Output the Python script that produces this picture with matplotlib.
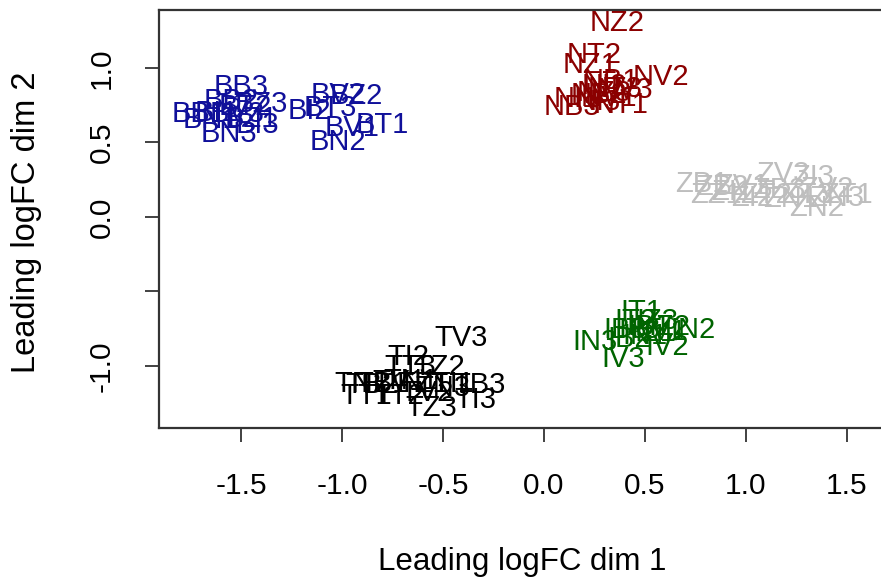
import matplotlib
matplotlib.use("Agg")
from matplotlib import pyplot as plt

plt.rcParams['font.family'] = ['Liberation Sans', 'DejaVu Sans']

# MDS coordinates, one block per group
b_lab = ['BB3', 'BB1', 'BB2', 'BI1', 'BI2', 'BI3', 'BN1', 'BN2', 'BN3',
         'BT1', 'BT2', 'BT3', 'BV1', 'BV2', 'BV3', 'BZ1', 'BZ2', 'BZ3']
b_x = [-1.50, -1.71, -1.55, -1.62, -1.16, -1.42, -1.65, -1.02, -1.56,
       -0.80, -1.48, -1.06, -0.95, -1.02, -1.52, -1.45, -0.93, -1.40]
b_y = [0.87, 0.69, 0.78, 0.70, 0.71, 0.62, 0.65, 0.50, 0.56,
       0.62, 0.74, 0.73, 0.60, 0.82, 0.69, 0.66, 0.81, 0.76]

n_lab = ['NZ2', 'NT2', 'NZ1', 'NV2', 'NB1', 'NI2', 'NT3', 'NZ3', 'NV1',
         'NB2', 'NI1', 'NT1', 'NB3', 'NI3', 'NV3']
n_x = [0.36, 0.25, 0.23, 0.58, 0.33, 0.30, 0.35, 0.30, 0.32,
       0.27, 0.16, 0.38, 0.14, 0.27, 0.40]
n_y = [1.30, 1.09, 1.02, 0.94, 0.91, 0.88, 0.86, 0.83, 0.80,
       0.82, 0.79, 0.75, 0.74, 0.77, 0.85]

z_lab = ['ZB1', 'ZV3', 'ZI3', 'ZT1', 'ZN2', 'ZB2', 'ZI1', 'ZV1', 'ZT2',
         'ZN1', 'ZT3', 'ZV2', 'ZN3', 'ZI2', 'ZB3', 'ZZ1']
z_x = [0.78, 1.18, 1.33, 1.50, 1.35, 0.88, 0.93, 0.98, 1.10,
       1.22, 1.30, 1.40, 1.45, 1.03, 1.16, 0.85]
z_y = [0.22, 0.29, 0.27, 0.15, 0.06, 0.20, 0.17, 0.21, 0.15,
       0.12, 0.15, 0.19, 0.13, 0.13, 0.18, 0.15]

i_lab = ['IT1', 'IN3', 'IV3', 'IV2', 'IN2', 'IB3', 'IT2', 'IB1', 'IZ1',
         'IV1', 'IN1', 'IT3', 'IB2', 'IZ2', 'IZ3']
i_x = [0.48, 0.25, 0.39, 0.61, 0.74, 0.40, 0.45, 0.52, 0.55,
       0.60, 0.50, 0.47, 0.42, 0.62, 0.56]
i_y = [-0.64, -0.84, -0.95, -0.87, -0.76, -0.76, -0.70, -0.74, -0.78,
       -0.77, -0.80, -0.76, -0.82, -0.74, -0.70]

t_lab = ['TV3', 'TI2', 'TT3', 'TZ2', 'TB1', 'TN2', 'TB2', 'TV1', 'TZ1',
         'TN1', 'TB3', 'TI1', 'TT1', 'TT2', 'TZ3', 'TI3', 'TV2', 'TN3']
t_x = [-0.41, -0.67, -0.66, -0.52, -0.80, -0.90, -0.85, -0.72, -0.60,
       -0.66, -0.32, -0.45, -0.88, -0.72, -0.56, -0.34, -0.58, -0.50]
t_y = [-0.81, -0.94, -1.01, -1.01, -1.12, -1.12, -1.13, -1.11, -1.12,
       -1.10, -1.13, -1.12, -1.20, -1.20, -1.28, -1.23, -1.18, -1.15]

groups = [(b_lab, b_x, b_y, '#10109a'),
          (n_lab, n_x, n_y, '#8B0000'),
          (z_lab, z_x, z_y, '#BEBEBE'),
          (i_lab, i_x, i_y, '#006400'),
          (t_lab, t_x, t_y, 'black')]

x_ticks = [-1.5, -1.0, -0.5, 0.0, 0.5, 1.0, 1.5]
y_ticks = [-1.0, -0.5, 0.0, 0.5, 1.0]
y_tick_lab = ['-1.0', '', '0.0', '0.5', '1.0']

fig = plt.figure(figsize=(8.81, 5.87), dpi=100)
ax = fig.add_axes([0.1805, 0.2709, 0.824, 0.712])

for lab, xs, ys, col in groups:
    for s, x, y in zip(lab, xs, ys):
        ax.text(x, y, s, color=col, fontsize=21, ha='center', va='center',
                clip_on=True)

ax.set_xlim(-1.906, 1.688)
ax.set_ylim(-1.416, 1.389)
ax.set_xticks(x_ticks)
ax.set_xticklabels(['%.1f' % v for v in x_ticks])
ax.set_yticks(y_ticks)
ax.set_yticklabels(y_tick_lab, rotation=90, va='center')
ax.tick_params(direction='out', length=10, width=1.3, labelsize=21.5,
               color='#333333')
ax.tick_params(axis='x', pad=22)
ax.tick_params(axis='y', pad=21)
for sp in ax.spines.values():
    sp.set_linewidth(1.6)
    sp.set_color('#333333')

fig.text(522 / 881, 1 - 562 / 587, 'Leading logFC dim 1', fontsize=22.5,
         ha='center', va='center')
fig.text(27 / 881, 1 - 222 / 587, 'Leading logFC dim 2', fontsize=23.5,
         ha='center', va='center', rotation=90)

fig.savefig('out.png', dpi=100)
